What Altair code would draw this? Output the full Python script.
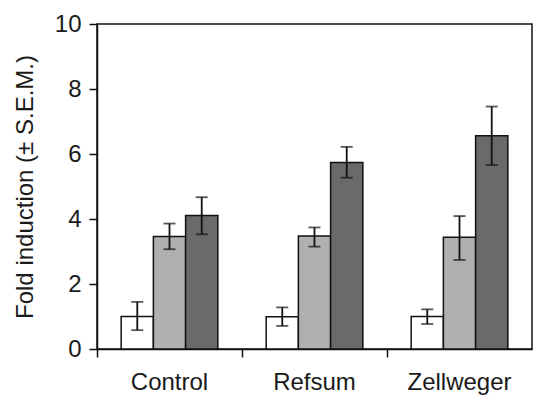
import altair as alt
import pandas as pd

groups = ["Control", "Refsum", "Zellweger"]
series = ["a", "b", "c"]
means = [
    [1.00, 3.46, 4.11],
    [0.99, 3.48, 5.74],
    [1.00, 3.44, 6.56],
]
lows = [
    [0.58, 3.07, 3.53],
    [0.71, 3.15, 5.27],
    [0.77, 2.74, 5.66],
]
highs = [
    [1.45, 3.86, 4.67],
    [1.28, 3.74, 6.22],
    [1.22, 4.09, 7.46],
]
colors = ["#ffffff", "#b0b0b0", "#6a6a6a"]

rows = []
for gi, g in enumerate(groups):
    for si, s in enumerate(series):
        rows.append({"group": g, "series": s, "mean": means[gi][si],
                     "lo": lows[gi][si], "hi": highs[gi][si]})
df = pd.DataFrame(rows)

FONT = "Liberation Sans"
FS = 24

x = alt.X("group:N", sort=groups,
          scale=alt.Scale(paddingInner=0, paddingOuter=0),
          axis=alt.Axis(title=None, labelAngle=0, bandPosition=0, tickSize=8,
                        labelPadding=13, labelFontSize=FS, labelFont=FONT,
                        labelColor="#1a1a1a", domainColor="#111", tickColor="#111",
                        domainWidth=1.5, tickWidth=1.5))
xo = alt.XOffset("series:N", sort=series,
                 scale=alt.Scale(paddingInner=0, paddingOuter=0.75))

base = alt.Chart(df)

bars = base.mark_bar(stroke="#111", strokeWidth=1.5).encode(
    x=x, xOffset=xo,
    y=alt.Y("mean:Q", scale=alt.Scale(domain=[0, 10]),
            axis=alt.Axis(title="Fold induction (± S.E.M.)", values=[0, 2, 4, 6, 8, 10],
                          grid=False, tickSize=8, labelPadding=8, labelFontSize=FS,
                          labelFont=FONT, titleFont=FONT, titleFontSize=FS,
                          titleFontWeight="normal", titlePadding=17,
                          labelColor="#1a1a1a", titleColor="#1a1a1a",
                          domainColor="#111", tickColor="#111",
                          domainWidth=1.5, tickWidth=1.5)),
    fill=alt.Fill("series:N", scale=alt.Scale(domain=series, range=colors), legend=None),
)

rules = base.mark_rule(color="#111", strokeWidth=1.8).encode(
    x=x, xOffset=xo, y="lo:Q", y2="hi:Q")
cap_lo = base.mark_tick(color="#111", thickness=1.8, size=12).encode(
    x=x, xOffset=xo, y="lo:Q")
cap_hi = base.mark_tick(color="#111", thickness=1.8, size=12).encode(
    x=x, xOffset=xo, y="hi:Q")

chart = (bars + rules + cap_lo + cap_hi).properties(
    width=435, height=325,
    autosize=alt.AutoSizeParams(type="none"),
    padding={"left": 97, "top": 24, "right": 1, "bottom": 48},
    background="white",
).configure_view(stroke="#111", strokeWidth=1.5)

chart.save("out.html", embed_options={"renderer": "svg", "actions": False})
